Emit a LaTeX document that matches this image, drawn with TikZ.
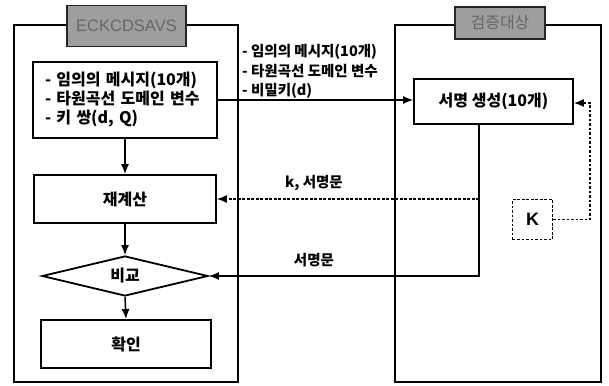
\documentclass[tikz,border=0pt]{standalone}
\usepackage{fontspec}
\setmainfont{Liberation Sans}
\newfontfamily\kr{Noto Sans CJK KR}
\usetikzlibrary{shapes.geometric,arrows.meta}

\begin{document}
\begin{tikzpicture}[x=1pt,y=-1pt,
  frame/.style={line width=1.5pt},
  box/.style={draw,line width=1.8pt,inner sep=0pt,font=\kr\bfseries\fontsize{16}{19}\selectfont},
  title/.style={draw=black!85,line width=1.4pt,fill=black!38,text=black!60,inner sep=0pt},
  arr/.style={line width=1.5pt,-{Latex[length=10pt,width=8pt]}},
  dots/.style={line width=1.2pt,dash pattern=on 2.8pt off 1.7pt},
  lbl/.style={font=\kr\bfseries\fontsize{14.5}{19.5}\selectfont,inner sep=0pt}]
\useasboundingbox (0,0) rectangle (609,385);

% outer frames of the two parties
\draw[frame] (14,25) rectangle (238,382);
\draw[frame] (395,25) rectangle (601,382);

% frame titles
\node[title,minimum width=119pt,minimum height=41pt,font=\fontsize{16.5}{20}\selectfont] (t1) at (126.5,26) {ECKCDSAVS};
\node[title,minimum width=90pt,minimum height=32pt,font=\kr\fontsize{16}{18}\selectfont] (t2) at (500,23) {검증대상};

% left column: verifier side
\node[box,minimum width=184pt,minimum height=76pt,text width=160pt,align=left] (in) at (125,100)
  {- 임의의 메시지(10개)\\- 타원곡선 도메인 변수\\- 키 쌍(d, Q)};
\node[box,minimum width=182pt,minimum height=48pt] (rec) at (125,199) {재계산};
\node[box,shape=diamond,aspect=4,minimum width=166pt,minimum height=40pt] (cmp) at (125,276) {비교};
\node[box,minimum width=170pt,minimum height=48pt] (ok) at (126,344) {확인};

% right column: signing side
\node[box,minimum width=159pt,minimum height=45pt] (sig) at (493.5,101.5) {서명 생성(10개)};
\node[box,dots,minimum width=40pt,minimum height=40pt,font=\bfseries\fontsize{18}{20}\selectfont] (key) at (532.5,219.5) {K};

% routing points
\coordinate (turn) at (590,103);
\coordinate (down) at (479,276);

% vertical flow
\draw[arr] (in.south) -- (rec.north);
\draw[arr] (rec.south) -- (cmp.north);
\draw[arr] (cmp.south) -- (ok.north);

% inputs to signature generation
\draw[arr] (in.east) -- (sig.west |- in.east);
\node[lbl,anchor=west,align=left] (inl) at (242,71.5)
  {- 임의의 메시지(10개)\\- 타원곡선 도메인 변수\\- 비밀키(d)};

% key K into signature generation
\draw[dots,-{Latex[length=10pt,width=8pt]}] (key.east) -| (turn) -- (sig.east |- turn);

% signature outputs back to the verifier
\draw[arr] (sig.south -| down) -- (down) -- (cmp.east);
\draw[dots,-{Latex[length=10pt,width=8pt]}] (down |- rec.east) -- (rec.east);
\node[lbl] (kl) at (314,183) {k, 서명문};
\node[lbl] (sl) at (314,260) {서명문};
\end{tikzpicture}
\end{document}
